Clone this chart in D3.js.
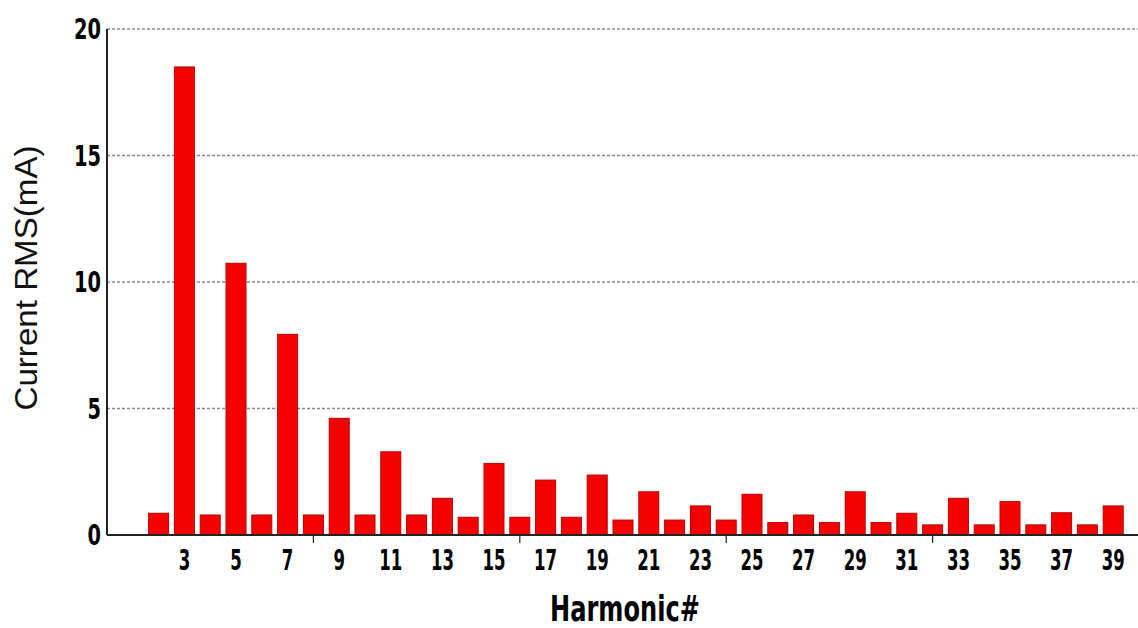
<!DOCTYPE html>
<html>
<head>
<meta charset="utf-8">
<script src="https://cdn.jsdelivr.net/npm/d3@7"></script>
<style>
  html, body { margin: 0; padding: 0; background: #fff; }
  svg { display: block; }
</style>
</head>
<body>
<svg id="chart" width="1138" height="628"></svg>
<script>
// Data
const harmonics = [2,3,4,5,6,7,8,9,10,11,12,13,14,15,16,17,18,19,20,21,22,23,24,25,26,27,28,29,30,31,32,33,34,35,36,37,38,39];
const currentRMS = [0.86,18.5,0.79,10.74,0.79,7.93,0.79,4.61,0.79,3.29,0.79,1.45,0.70,2.83,0.70,2.17,0.70,2.37,0.59,1.71,0.59,1.15,0.59,1.61,0.49,0.79,0.49,1.71,0.49,0.86,0.40,1.45,0.40,1.32,0.40,0.88,0.40,1.15];
const xTickLabels = [3,5,7,9,11,13,15,17,19,21,23,25,27,29,31,33,35,37,39];
const xMinorTicks = [8,16,24,32];
const yTicks = [0,5,10,15,20];
const xTitle = "Harmonic#";
const yTitle = "Current RMS(mA)";

const svg = d3.select("#chart");
const mLeft = 107, mRight = 1139, mTop = 29, mBottom = 535;

const x = d3.scaleLinear().domain([0, 40]).range([mLeft, mRight]);
const y = d3.scaleLinear().domain([0, 20]).range([mBottom, mTop]);
const barW = 20;

const narrow = "'Liberation Sans Narrow','Arial Narrow','DejaVu Sans Condensed',sans-serif";

// Gridlines
svg.append("g").selectAll("line").data(yTicks.filter(d => d > 0)).join("line")
  .attr("x1", mLeft).attr("x2", 1138)
  .attr("y1", d => y(d)).attr("y2", d => y(d))
  .attr("stroke", "#8a8a8a").attr("stroke-width", 1.6)
  .attr("stroke-dasharray", "3,2");

// Bars
svg.append("g").selectAll("rect").data(harmonics).join("rect")
  .attr("x", (d) => x(d) - barW / 2)
  .attr("width", barW)
  .attr("y", (d, i) => y(currentRMS[i]))
  .attr("height", (d, i) => y(0) - y(currentRMS[i]))
  .attr("fill", "#f50000")
  .attr("stroke", "#b80000")
  .attr("stroke-width", 1);

// Axes lines
svg.append("line").attr("x1", mLeft).attr("x2", mLeft).attr("y1", mTop).attr("y2", mBottom)
  .attr("stroke", "#222").attr("stroke-width", 2);
svg.append("line").attr("x1", mLeft).attr("x2", 1138).attr("y1", mBottom).attr("y2", mBottom)
  .attr("stroke", "#222").attr("stroke-width", 2);

// Minor ticks on x axis
svg.append("g").selectAll("line").data(xMinorTicks).join("line")
  .attr("x1", d => x(d)).attr("x2", d => x(d))
  .attr("y1", mBottom).attr("y2", mBottom + 8)
  .attr("stroke", "#222").attr("stroke-width", 1.2);

// Y tick labels
svg.append("g").selectAll("text").data(yTicks).join("text")
  .attr("x", 101).attr("y", d => y(d) + 10)
  .attr("text-anchor", "end")
  .attr("font-family", narrow).attr("font-weight", "bold")
  .attr("font-size", 28).attr("fill", "#000")
  .attr("textLength", d => String(d).length * 13.5).attr("lengthAdjust", "spacingAndGlyphs")
  .text(d => d);

// X tick labels
svg.append("g").selectAll("text").data(xTickLabels).join("text")
  .attr("x", d => x(d)).attr("y", 570)
  .attr("text-anchor", "middle")
  .attr("font-family", narrow).attr("font-weight", "bold")
  .attr("font-size", 28).attr("fill", "#000")
  .attr("textLength", d => String(d).length * 11.5).attr("lengthAdjust", "spacingAndGlyphs")
  .text(d => d);

// X title
svg.append("text")
  .attr("x", 625).attr("y", 621)
  .attr("text-anchor", "middle")
  .attr("font-family", narrow).attr("font-weight", "bold")
  .attr("font-size", 35).attr("fill", "#000")
  .attr("textLength", 150).attr("lengthAdjust", "spacingAndGlyphs")
  .text(xTitle);

// Y title
svg.append("text")
  .attr("transform", "translate(37,278) rotate(-90)")
  .attr("text-anchor", "middle")
  .attr("font-family", "'Liberation Sans',Arial,sans-serif")
  .attr("font-size", 31).attr("fill", "#111")
  .attr("textLength", 265).attr("lengthAdjust", "spacingAndGlyphs")
  .text(yTitle);
</script>
</body>
</html>
